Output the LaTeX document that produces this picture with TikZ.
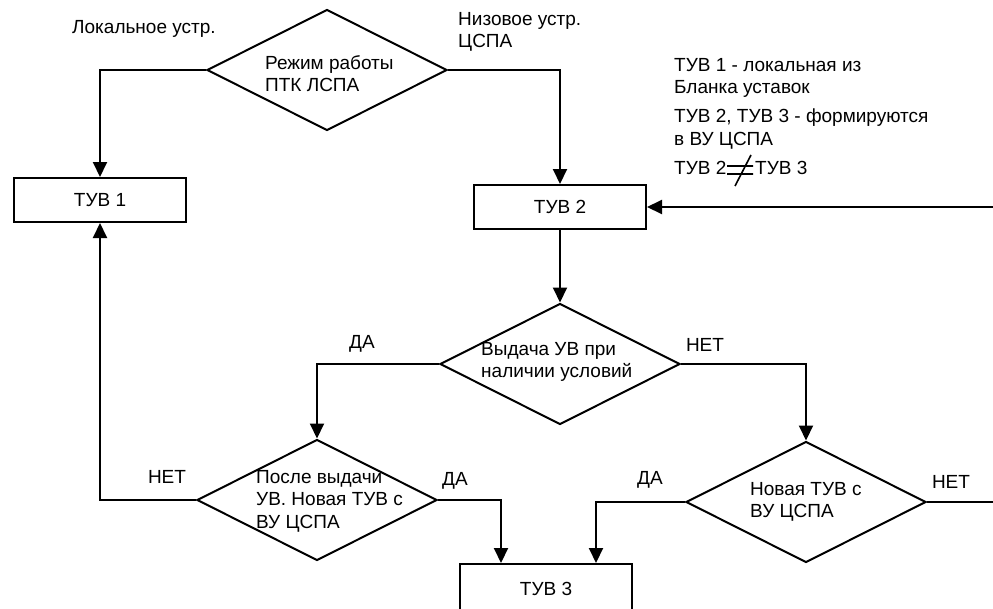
\documentclass[tikz,border=0pt]{standalone}
\usepackage{fontspec}
\setmainfont{Liberation Sans}
\usetikzlibrary{shapes.geometric,arrows.meta}
\begin{document}
\begin{tikzpicture}[x=1pt,y=-1pt,
  every node/.style={font=\fontsize{19}{22.5}\selectfont, inner sep=0pt},
  box/.style={draw, line width=2pt, minimum width=172pt, minimum height=44pt},
  decision/.style={draw, line width=2pt, diamond, minimum width=240pt, minimum height=121pt},
  txt/.style={align=left, anchor=north west},
  conn/.style={line width=2pt, -{Triangle[length=15pt,width=14pt]}},
  link/.style={line width=2pt}]
\useasboundingbox (0,0) rectangle (993,608);
\clip (0,0) rectangle (993,608);

% decisions
\node[decision] (d1) at (327,70) {};
\node[decision] (d2) at (560,364) {};
\node[decision] (d3) at (317,500) {};
\node[decision] (d4) at (806,502) {};

% boxes
\node[box] (t1) at (100,200) {ТУВ 1};
\node[box] (t2) at (560,207) {ТУВ 2};
\node[box, minimum height=50pt] (t3) at (546,589) {ТУВ 3};

% free texts
\node[txt] (lloc) at (72,20) {Локальное устр.};
\node[txt] (lnis) at (458,12) {Низовое устр.\\ЦСПА};
\node[txt] (n1) at (674,58) {ТУВ 1 - локальная из\\Бланка уставок};
\node[txt] (n2) at (674,109) {ТУВ 2, ТУВ 3 - формируются\\в ВУ ЦСПА};
\node[txt] (n3a) at (674,161) {ТУВ 2};
\node[txt] (n3b) at (755,161) {ТУВ 3};
\draw[line width=1.6pt] (727,166) -- (753,166) (727,174) -- (753,174) (735,186) -- (751,155);

% decision texts
\node[txt] (d1t) at (265,55) {Режим работы\\ПТК ЛСПА};
\node[txt] (d2t) at (481,342) {Выдача УВ при\\наличии условий};
\node[txt] (d3t) at (256,470) {После выдачи\\УВ. Новая ТУВ с\\ВУ ЦСПА};
\node[txt] (d4t) at (750,482) {Новая ТУВ с\\ВУ ЦСПА};

% branch labels
\node (la1) at (362,344) {ДА};
\node (ln1) at (705,345) {НЕТ};
\node (ln2) at (167,477) {НЕТ};
\node (la2) at (455,481) {ДА};
\node (la3) at (650,480) {ДА};
\node (ln3) at (951,482) {НЕТ};

% connectors
\coordinate (e1) at (993,207);
\coordinate (e2) at (993,502);
\draw[conn] (d1.west) -| (t1.north);
\draw[conn] (d1.east) -| (t2.north);
\draw[conn] (e1) -- (t2.east);
\draw[conn] (t2.south) -- (d2.north);
\draw[conn] (d2.west) -| (d3.north);
\draw[conn] (d2.east) -| (d4.north);
\draw[conn] (d3.west) -| (t1.south);
\draw[conn] (d3.east) -| ([xshift=-45pt]t3.north);
\draw[conn] (d4.west) -| ([xshift=50pt]t3.north);
\draw[link] (d4.east) -- (e2);
\end{tikzpicture}
\end{document}
